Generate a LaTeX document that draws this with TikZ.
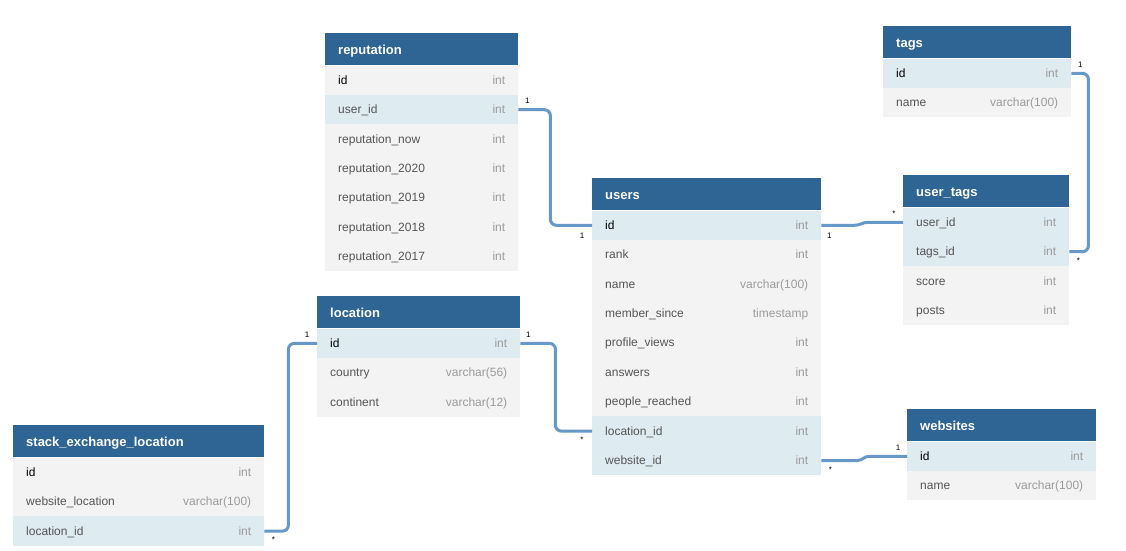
\documentclass[tikz,border=0pt]{standalone}
\usepackage{fontspec}
\setmainfont{Liberation Sans}
\usetikzlibrary{positioning,calc}

\definecolor{hdrblue}{RGB}{47,101,148}
\definecolor{pl}{RGB}{243,243,243}
\definecolor{hl}{RGB}{222,235,241}
\definecolor{linkblue}{RGB}{104,152,200}
\definecolor{typegray}{RGB}{155,155,155}
\definecolor{fd}{RGB}{85,85,85}
\colorlet{pk}{black}

\tikzset{
  hdr/.style={fill=hdrblue,text=white,anchor=north west,inner xsep=13pt,
    minimum height=32pt,text height=12pt,text depth=1pt,
    font=\fontsize{13}{15}\selectfont\bfseries},
  fld/.style={anchor=north west,inner xsep=13pt,inner ysep=0pt,
    minimum height=29.4pt,text height=10pt,text depth=2pt,
    font=\fontsize{12}{14}\selectfont},
  link/.style={draw=linkblue,line width=3pt,rounded corners=6pt},
  card/.style={inner sep=0pt,font=\fontsize{8}{9}\selectfont}
}

\begin{document}
\begin{tikzpicture}[x=1pt,y=-1pt]
\useasboundingbox[fill=white] (0,0) rectangle (1126,550);

% reputation
\node[hdr,text width=167pt] (rep) at (325,33) {reputation};
\foreach \f/\t/\bg/\tc [count=\i] in {id/int/pl/pk, user\_id/int/hl/fd,
  reputation\_now/int/pl/fd, reputation\_2020/int/pl/fd, reputation\_2019/int/pl/fd,
  reputation\_2018/int/pl/fd, reputation\_2017/int/pl/fd}
  \node[fld,fill=\bg,text=\tc,text width=167pt] (rep-\i)
    at ($(rep.south west)+(0,{(\i-1)*29.4})$) {\f\hfill\textcolor{typegray}{\t}};

% users
\node[hdr,text width=203pt] (usr) at (592,178) {users};
\foreach \f/\t/\bg/\tc [count=\i] in {id/int/hl/pk, rank/int/pl/fd,
  name/varchar(100)/pl/fd, member\_since/timestamp/pl/fd, profile\_views/int/pl/fd,
  answers/int/pl/fd, people\_reached/int/pl/fd, location\_id/int/hl/fd,
  website\_id/int/hl/fd}
  \node[fld,fill=\bg,text=\tc,text width=203pt] (usr-\i)
    at ($(usr.south west)+(0,{(\i-1)*29.4})$) {\f\hfill\textcolor{typegray}{\t}};

% tags
\node[hdr,text width=162pt] (tags) at (883,26) {tags};
\foreach \f/\t/\bg/\tc [count=\i] in {id/int/hl/pk, name/varchar(100)/pl/fd}
  \node[fld,fill=\bg,text=\tc,text width=162pt] (tags-\i)
    at ($(tags.south west)+(0,{(\i-1)*29.4})$) {\f\hfill\textcolor{typegray}{\t}};

% user_tags
\node[hdr,text width=140pt] (ut) at (903,175) {user\_tags};
\foreach \f/\t/\bg/\tc [count=\i] in {user\_id/int/hl/fd, tags\_id/int/hl/fd,
  score/int/pl/fd, posts/int/pl/fd}
  \node[fld,fill=\bg,text=\tc,text width=140pt] (ut-\i)
    at ($(ut.south west)+(0,{(\i-1)*29.4})$) {\f\hfill\textcolor{typegray}{\t}};

% location
\node[hdr,text width=177pt] (loc) at (317,296) {location};
\foreach \f/\t/\bg/\tc [count=\i] in {id/int/hl/pk, country/varchar(56)/pl/fd,
  continent/varchar(12)/pl/fd}
  \node[fld,fill=\bg,text=\tc,text width=177pt] (loc-\i)
    at ($(loc.south west)+(0,{(\i-1)*29.4})$) {\f\hfill\textcolor{typegray}{\t}};

% stack_exchange_location
\node[hdr,text width=225pt] (sel) at (13,425) {stack\_exchange\_location};
\foreach \f/\t/\bg/\tc [count=\i] in {id/int/pl/pk,
  website\_location/varchar(100)/pl/fd, location\_id/int/hl/fd}
  \node[fld,fill=\bg,text=\tc,text width=225pt] (sel-\i)
    at ($(sel.south west)+(0,{(\i-1)*29.4})$) {\f\hfill\textcolor{typegray}{\t}};

% websites
\node[hdr,text width=163pt] (web) at (907,409) {websites};
\foreach \f/\t/\bg/\tc [count=\i] in {id/int/hl/pk, name/varchar(100)/pl/fd}
  \node[fld,fill=\bg,text=\tc,text width=163pt] (web-\i)
    at ($(web.south west)+(0,{(\i-1)*29.4})$) {\f\hfill\textcolor{typegray}{\t}};

% relations
\draw[link] (rep-2.east) -- ++(32,0) |- (usr-1.west);
\draw[link,sharp corners] (usr-1.east) -- ++(33,0) to[out=0,in=180] ($(ut-1.west)+(-35,0)$) -- (ut-1.west);
\draw[link] (tags-1.east) -- ++(17,0) |- (ut-2.east);
\draw[link] (loc-1.east) -- ++(35,0) |- (usr-8.west);
\draw[link] (sel-3.east) -- ++(24,0) |- (loc-1.west);
\draw[link,sharp corners] (usr-9.east) -- ++(36,0) to[out=0,in=180] ($(web-1.west)+(-38,0)$) -- (web-1.west);

% cardinalities
\node[card] (c1a) at ($(rep-2.east)+(9,-9)$) {1};
\node[card] (c1b) at ($(usr-1.west)+(-10,10)$) {1};
\node[card] (c2a) at ($(usr-1.east)+(8,10)$) {1};
\node[card] (c2b) at ($(ut-1.west)+(-9,-9)$) {*};
\node[card] (c3a) at ($(tags-1.east)+(9,-9)$) {1};
\node[card] (c3b) at ($(ut-2.east)+(9,9)$) {*};
\node[card] (c4a) at ($(loc-1.east)+(8,-9)$) {1};
\node[card] (c4b) at ($(usr-8.west)+(-10,9)$) {*};
\node[card] (c5a) at ($(sel-3.east)+(9,9)$) {*};
\node[card] (c5b) at ($(loc-1.west)+(-10,-9)$) {1};
\node[card] (c6a) at ($(usr-9.east)+(9,9)$) {*};
\node[card] (c6b) at ($(web-1.west)+(-9,-9)$) {1};
\end{tikzpicture}
\end{document}
